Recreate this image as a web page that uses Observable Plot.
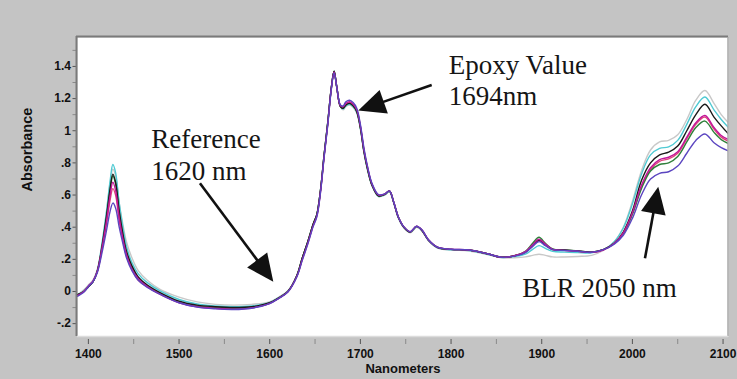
<!DOCTYPE html>
<html>
<head>
<meta charset="utf-8">
<script src="https://cdn.jsdelivr.net/npm/d3@7"></script>
<script src="https://cdn.jsdelivr.net/npm/@observablehq/plot@0.6"></script>
<style>
  html, body { margin: 0; padding: 0; background: #c4c4c4; }
  #chart svg { display: block; }
</style>
</head>
<body>
<div id="chart"></div>
<script>
// Wavelength grid (nm)
const wavelengths = [
  1388,1395,1400,1405,1410,
  1415,1420,1424,1427,1430,1434,1438,1442,1448,1455,
  1465,1480,1500,1520,1540,1560,1580,1600,
  1610,1620,1630,1636,1642,1648,1652,1656,1660,1664,1668,1671,1674,1678,1681,1684,1688,1692,1696,1700,1704,1708,1713,1720,
  1727,1732,1737,1742,1748,1755,1762,1768,1775,1785,1800,1820,1840,1855,
  1870,1882,1890,1897,1904,1912,1925,1940,1955,1968,
  1980,1990,2000,2010,2020,2030,2040,2050,2060,2070,2080,2090,2098,2106
];

// Absorbance spectra
const graySpectrum = [
  -0.02,0.01,0.04,0.07,0.14,
  0.29,0.49,0.67,0.76,0.72,0.55,0.42,0.31,0.21,0.13,
  0.07,0.01,-0.035,-0.065,-0.08,-0.085,-0.08,-0.065,
  -0.035,0.005,0.10,0.21,0.31,0.42,0.48,0.63,0.85,1.05,1.27,1.37,1.27,1.15,1.13,1.15,1.16,1.145,1.11,1.01,0.86,0.75,0.655,0.59,
  0.60,0.62,0.545,0.455,0.395,0.365,0.40,0.375,0.315,0.27,0.258,0.252,0.23,0.21,
  0.21,0.215,0.225,0.232,0.225,0.215,0.215,0.218,0.225,0.255,
  0.31,0.40,0.56,0.75,0.88,0.93,0.94,0.975,1.07,1.19,1.25,1.17,1.10,1.05
];
const cyanSpectrum = [
  -0.02,0.005,0.035,0.065,0.135,
  0.30,0.50,0.69,0.79,0.74,0.55,0.40,0.28,0.18,0.11,
  0.055,0.0,-0.05,-0.078,-0.09,-0.095,-0.09,-0.068,
  -0.038,0.002,0.10,0.21,0.31,0.42,0.48,0.63,0.85,1.05,1.27,1.37,1.27,1.15,1.135,1.155,1.165,1.15,1.115,1.015,0.865,0.755,0.657,0.592,
  0.602,0.622,0.548,0.458,0.398,0.368,0.402,0.378,0.318,0.272,0.26,0.255,0.232,0.212,
  0.218,0.232,0.262,0.285,0.268,0.25,0.245,0.242,0.24,0.26,
  0.31,0.395,0.545,0.73,0.85,0.89,0.90,0.94,1.04,1.15,1.21,1.13,1.07,1.02
];
const redSpectrum = [
  -0.025,0.0,0.03,0.06,0.125,
  0.26,0.42,0.57,0.64,0.60,0.44,0.32,0.22,0.14,0.07,
  0.03,-0.02,-0.068,-0.093,-0.103,-0.108,-0.10,-0.073,
  -0.041,-0.001,0.098,0.205,0.305,0.415,0.475,0.625,0.845,1.045,1.268,1.368,1.27,1.152,1.145,1.165,1.175,1.16,1.125,1.025,0.875,0.765,0.662,0.597,
  0.605,0.625,0.55,0.46,0.40,0.37,0.405,0.38,0.32,0.275,0.262,0.258,0.235,0.213,
  0.222,0.245,0.285,0.315,0.29,0.26,0.256,0.25,0.244,0.26,
  0.30,0.365,0.485,0.65,0.76,0.81,0.825,0.86,0.95,1.04,1.085,1.01,0.96,0.935
];
const greenSpectrum = [
  -0.02,0.0,0.03,0.06,0.13,
  0.27,0.46,0.63,0.72,0.67,0.49,0.35,0.24,0.15,0.08,
  0.035,-0.015,-0.065,-0.09,-0.10,-0.105,-0.10,-0.072,
  -0.04,0.0,0.10,0.21,0.31,0.42,0.48,0.63,0.85,1.05,1.27,1.37,1.27,1.15,1.14,1.16,1.17,1.155,1.12,1.02,0.87,0.76,0.66,0.595,
  0.605,0.625,0.55,0.46,0.40,0.37,0.405,0.38,0.32,0.275,0.262,0.258,0.235,0.213,
  0.222,0.25,0.30,0.337,0.30,0.265,0.258,0.252,0.245,0.26,
  0.30,0.36,0.48,0.64,0.75,0.79,0.80,0.84,0.93,1.02,1.06,0.99,0.945,0.92
];
const blackSpectrum = [
  -0.02,0.00,0.03,0.06,0.13,
  0.28,0.47,0.64,0.73,0.68,0.50,0.36,0.25,0.16,0.09,
  0.04,-0.01,-0.06,-0.085,-0.095,-0.10,-0.095,-0.07,
  -0.04,0.00,0.10,0.21,0.31,0.42,0.48,0.63,0.85,1.05,1.27,1.37,1.27,1.15,1.14,1.16,1.17,1.155,1.12,1.02,0.87,0.76,0.66,0.595,
  0.605,0.625,0.55,0.46,0.40,0.37,0.405,0.38,0.32,0.275,0.262,0.258,0.235,0.213,
  0.222,0.245,0.285,0.32,0.29,0.262,0.258,0.252,0.245,0.26,
  0.30,0.37,0.50,0.69,0.80,0.85,0.867,0.905,1.0,1.10,1.165,1.085,1.03,0.98
];
const magentaSpectrum = [
  -0.025,0.0,0.035,0.065,0.13,
  0.27,0.44,0.60,0.68,0.63,0.46,0.33,0.23,0.14,0.08,
  0.03,-0.02,-0.07,-0.095,-0.105,-0.11,-0.102,-0.074,
  -0.042,-0.002,0.095,0.20,0.30,0.41,0.47,0.62,0.84,1.04,1.265,1.365,1.27,1.155,1.15,1.17,1.18,1.165,1.13,1.03,0.88,0.77,0.665,0.6,
  0.607,0.626,0.552,0.462,0.402,0.372,0.406,0.382,0.322,0.276,0.263,0.258,0.235,0.213,
  0.222,0.248,0.29,0.325,0.295,0.262,0.256,0.25,0.243,0.258,
  0.30,0.365,0.49,0.66,0.77,0.82,0.835,0.87,0.96,1.05,1.095,1.02,0.97,0.945
];
const purpleSpectrum = [
  -0.03,-0.005,0.03,0.06,0.12,
  0.24,0.38,0.50,0.55,0.52,0.40,0.30,0.21,0.13,0.07,
  0.025,-0.02,-0.07,-0.097,-0.108,-0.112,-0.104,-0.075,
  -0.043,-0.003,0.092,0.195,0.295,0.405,0.465,0.615,0.835,1.035,1.26,1.36,1.27,1.16,1.155,1.18,1.19,1.175,1.14,1.04,0.89,0.775,0.67,0.602,
  0.607,0.626,0.552,0.462,0.402,0.372,0.406,0.382,0.322,0.276,0.263,0.258,0.235,0.213,
  0.22,0.242,0.28,0.31,0.285,0.26,0.255,0.25,0.244,0.26,
  0.295,0.35,0.455,0.60,0.70,0.735,0.745,0.78,0.86,0.94,0.98,0.925,0.895,0.875
];

const seriesNames = ["gray","cyan","red","green","black","magenta","purple"];
const seriesValues = [graySpectrum, cyanSpectrum, redSpectrum, greenSpectrum, blackSpectrum, magentaSpectrum, purpleSpectrum];
const seriesColors = ["#c8c8c8","#4fcad3","#e0457a","#2f7f3a","#1a1a1a","#c2169a","#5b45c0"];

// Axis ticks
const xTicks = [1400,1500,1600,1700,1800,1900,2000,2100];
const xTickLabels = ["1400","1500","1600","1700","1800","1900","2000","2100"];
const xMinorTicks = [1450,1550,1650,1750,1850,1950,2050];
const yTicks = [-0.2,0,0.2,0.4,0.6,0.8,1,1.2,1.4];
const yTickLabels = ["-.2","0",".2",".4",".6",".8","1","1.2","1.4"];
const yMinorTicks = [-0.1,0.1,0.3,0.5,0.7,0.9,1.1,1.3,1.5];

// Annotations (data coordinates)
const noteTexts = ["Reference\n1620 nm", "Epoxy Value\n1694nm", "BLR 2050 nm"];
const noteX = [1469.3, 1797.5, 1878.4];
const noteY = [0.695, 1.157, -0.035];
const arrowTail = [[1523.6, 0.670], [1779.2, 1.282], [2014.4, 0.203]];
const arrowTip  = [[1604.5, 0.058], [1698.2, 1.122], [2029.1, 0.649]];

const rows = seriesNames.flatMap((name, s) =>
  wavelengths.map((w, i) => ({series: name, nm: w, abs: seriesValues[s][i]})));

const xLabelMap = new Map(xTicks.map((t, i) => [t, xTickLabels[i]]));
const yLabelMap = new Map(yTicks.map((t, i) => [t, yTickLabels[i]]));

const notes = noteTexts.map((t, i) => ({text: t, x: noteX[i], y: noteY[i]}));
const blank = () => "";

const chart = Plot.plot({
  width: 737,
  height: 379,
  marginLeft: 77,
  marginRight: 9,
  marginTop: 37,
  marginBottom: 43,
  style: {background: "#c4c4c4", fontFamily: "Liberation Sans, Arial, sans-serif", fontWeight: "bold", fontSize: "12px", overflow: "visible"},
  x: {domain: [1388, 2106], label: null},
  y: {domain: [-0.28, 1.58], label: null},
  marks: [
    Plot.frame({fill: "white", stroke: null}),
    Plot.axisY({ticks: yMinorTicks, tickSize: 4.5, tickFormat: blank, stroke: "#8a8a8a", label: null}),
    Plot.axisY({ticks: yTicks, tickSize: 4.5, tickPadding: 2, stroke: "#555",
      tickFormat: d => yLabelMap.get(d), fontSize: 12, fill: "#111", label: null}),
    Plot.axisX({ticks: xMinorTicks, tickSize: 5, dy: 3, tickFormat: blank, stroke: "#8a8a8a", label: null}),
    Plot.axisX({ticks: xTicks, tickSize: 5, dy: 3, tickFormat: blank, stroke: "#555", label: null}),
    Plot.axisX({ticks: xTicks, tickSize: 0, tickPadding: 13, tickFormat: d => xLabelMap.get(d),
      fontSize: 12, fill: "#111", label: null}),
    ...seriesNames.map((name, s) =>
      Plot.line(rows.filter(r => r.series === name), {
        x: "nm", y: "abs", stroke: seriesColors[s], strokeWidth: 1.4, curve: "catmull-rom", clip: true
      })),
    Plot.text(notes, {x: "x", y: "y", text: "text", textAnchor: "start", lineAnchor: "bottom",
      lineHeight: 1.17, fontSize: 27, fontWeight: "normal", fontFamily: "Liberation Serif, Times New Roman, serif", fill: "#151515"}),
    Plot.text(["Nanometers"], {frameAnchor: "bottom", dy: 36, fontSize: 13, fontWeight: "bold", fill: "#111"}),
    Plot.text(["Absorbance"], {frameAnchor: "left", dx: -50, dy: 4.5, rotate: -90, fontSize: 14.5, fontWeight: "bold", fill: "#111"})
  ]
});

document.getElementById("chart").appendChild(chart);

// Frame border (sunken look) and arrows, positioned through the plot's scales
const sx = chart.scale("x"), sy = chart.scale("y");
const [x0, x1] = sx.range;
const [yb, yt] = sy.range;
const svg = d3.select(chart);
const g = svg.append("g");
g.append("line").attr("x1", x0 - 1).attr("x2", x1).attr("y1", yt - 0.5).attr("y2", yt - 0.5).attr("stroke", "#7a7a7a").attr("stroke-width", 2);
g.append("line").attr("x1", x0 - 0.5).attr("x2", x0 - 0.5).attr("y1", yt - 1).attr("y2", yb).attr("stroke", "#7a7a7a").attr("stroke-width", 2);
g.append("line").attr("x1", x1).attr("x2", x1).attr("y1", yt).attr("y2", yb).attr("stroke", "#a8a8a8").attr("stroke-width", 1.5);
g.append("line").attr("x1", x0).attr("x2", x1).attr("y1", yb + 0.5).attr("y2", yb + 0.5).attr("stroke", "#dcdcdc").attr("stroke-width", 1.5);

const headLen = 27, headHalf = 12.5;
arrowTail.forEach((t, i) => {
  const ax = sx.apply(t[0]), ay = sy.apply(t[1]);
  const bx = sx.apply(arrowTip[i][0]), by = sy.apply(arrowTip[i][1]);
  const L = Math.hypot(bx - ax, by - ay);
  const ux = (bx - ax) / L, uy = (by - ay) / L;
  const cx = bx - ux * headLen, cy = by - uy * headLen;
  g.append("line").attr("x1", ax).attr("y1", ay).attr("x2", cx + ux * 2).attr("y2", cy + uy * 2)
    .attr("stroke", "#111").attr("stroke-width", 2.6);
  const pts = [[bx, by], [cx - uy * headHalf, cy + ux * headHalf], [cx + uy * headHalf, cy - ux * headHalf]];
  g.append("polygon").attr("points", pts.map(p => p.join(",")).join(" ")).attr("fill", "#111");
});
</script>
</body>
</html>
